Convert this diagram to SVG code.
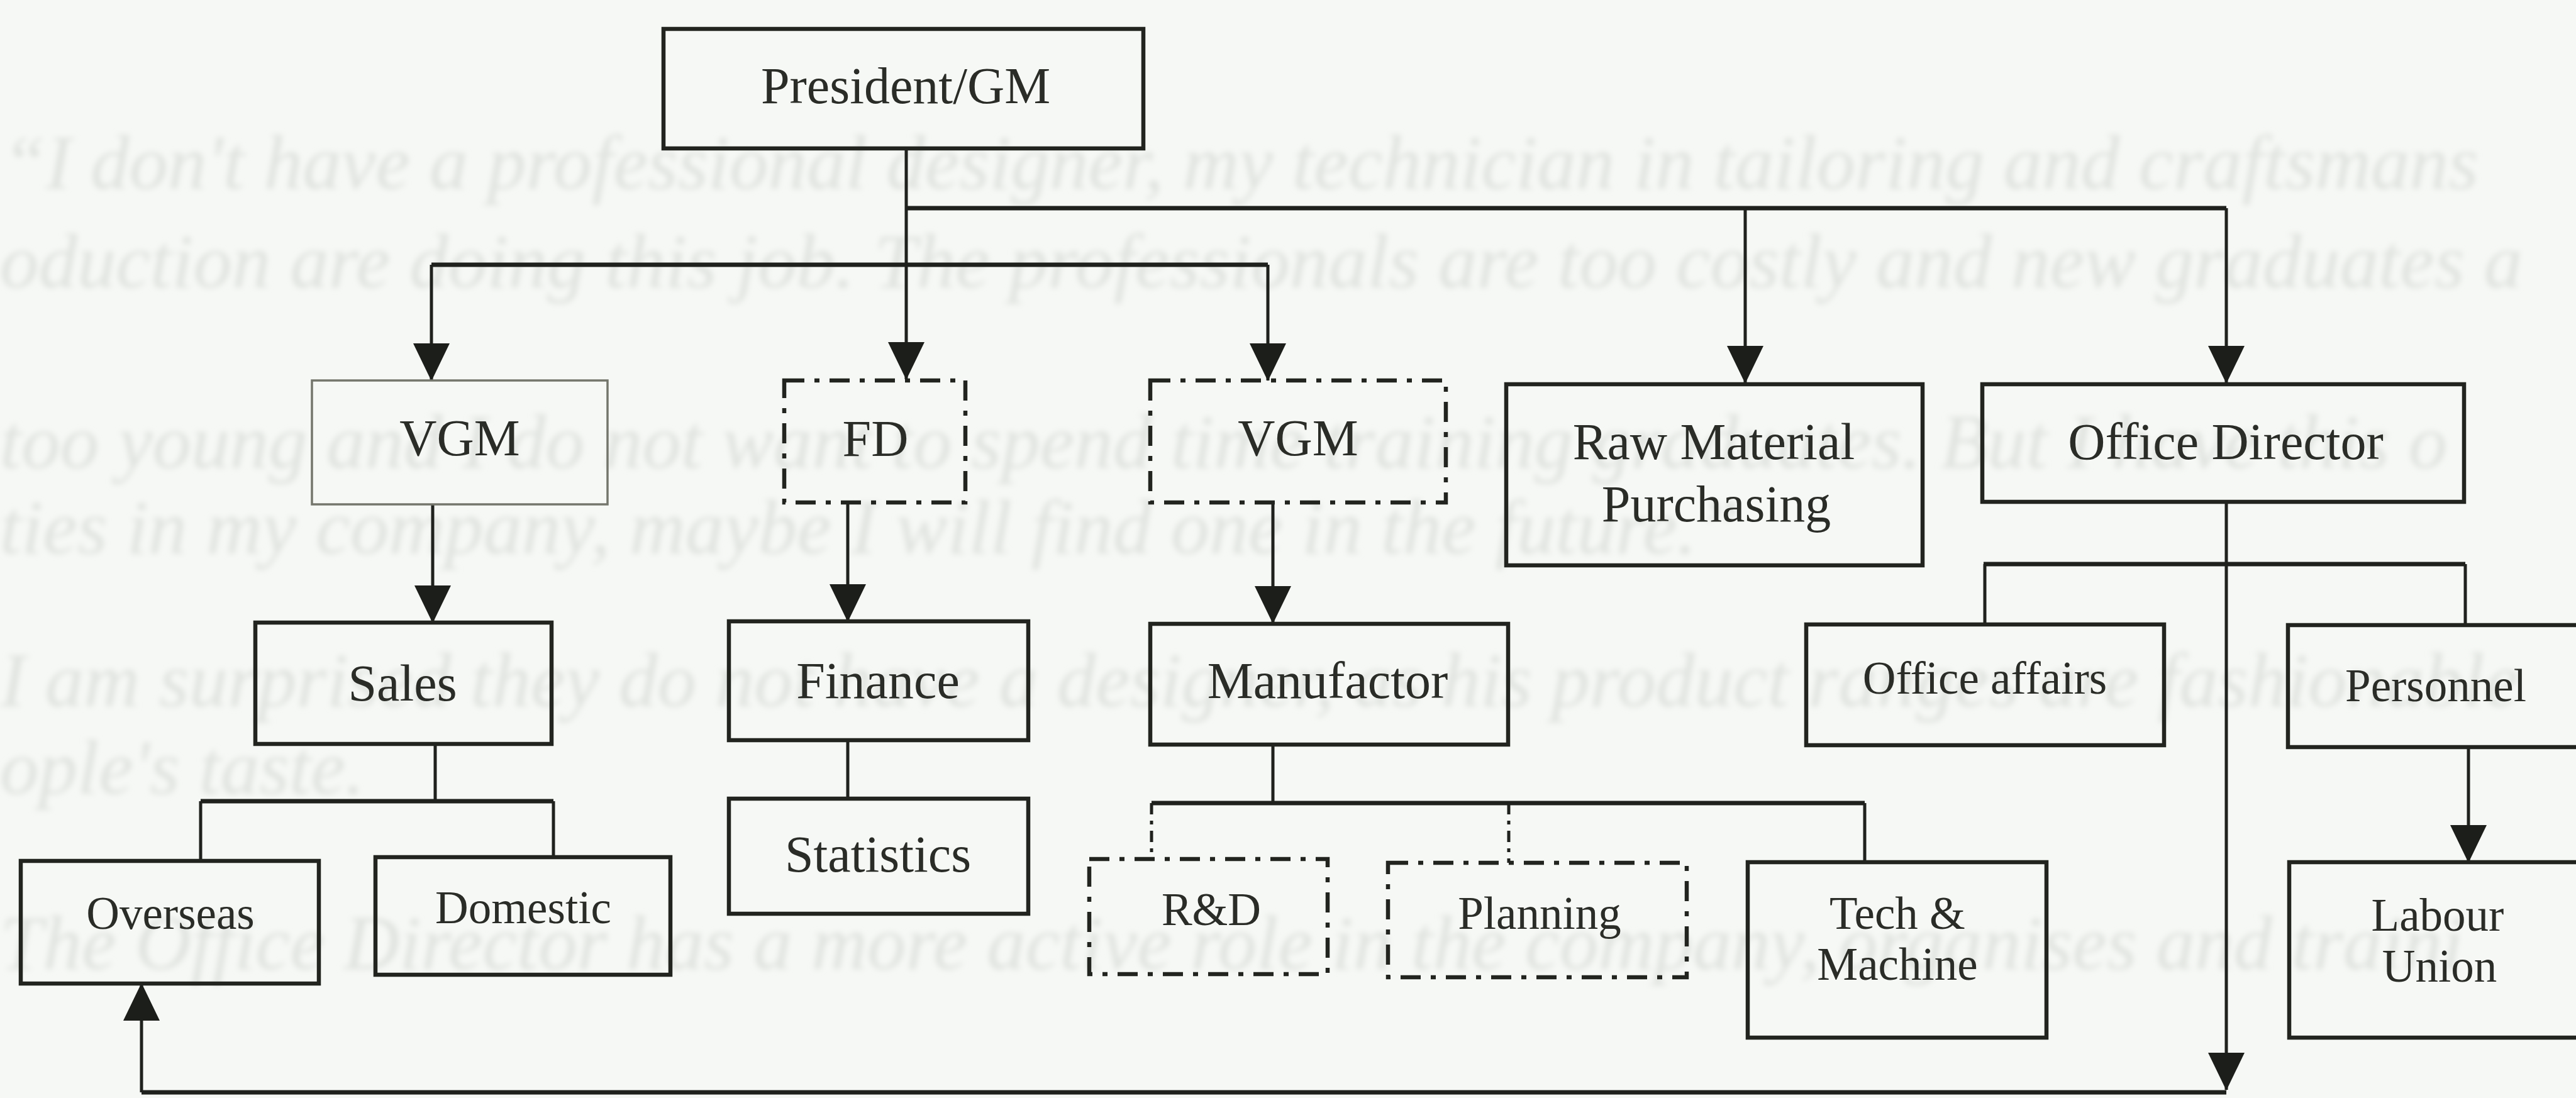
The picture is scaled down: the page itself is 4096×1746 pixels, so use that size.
<svg xmlns="http://www.w3.org/2000/svg" width="4096" height="1746" viewBox="0 0 4096 1746">
  <defs>
    <marker id="arrow" markerUnits="userSpaceOnUse" viewBox="0 -29 60 58" refX="59" refY="0" markerWidth="60" markerHeight="58" orient="auto">
      <path d="M0,-29 L60,0 L0,29 Z" fill="#1c1e1a"/>
    </marker>
    <filter id="soft" x="-2%" y="-60%" width="104%" height="220%">
      <feGaussianBlur stdDeviation="5"/>
    </filter>
  </defs>
  <style>
    .box{fill:none;stroke:#22241f;stroke-width:6.5}
    .thin{stroke:#74766c;stroke-width:3.5}
    .dash{stroke-dasharray:32 16 8 16}
    .lbl{font-family:"Liberation Serif","Times New Roman",serif;font-size:82px;fill:#2a2c27;text-anchor:middle}
    .sm{font-size:73px}
    .wire{fill:none;stroke:#1f211d;stroke-width:5}
    .bar{stroke-width:7}
    .dotted{stroke-dasharray:18 10 6 10}
    .ghost{font-family:"Liberation Serif","Times New Roman",serif;font-style:italic;font-size:123px;fill:#e0e3df}
  </style>

  <!-- page background -->
  <rect width="4096" height="1746" fill="#f6f8f5"/>

  <!-- faint print from the reverse side of the page -->
  <g id="reverse-print" filter="url(#soft)">
    <text class="ghost" x="4" y="300">“I don't have a professional designer, my technician in tailoring and craftsmans</text>
    <text class="ghost" x="0" y="457">oduction are doing this job. The professionals are too costly and new graduates a</text>
    <text class="ghost" x="0" y="744">too young and I do not want to spend time training graduates. But I have this o</text>
    <text class="ghost" x="0" y="880">ties in my company, maybe I will find one in the future.”</text>
    <text class="ghost" x="0" y="1123">I am surprised they do not have a designer, as his product ranges are fashionable</text>
    <text class="ghost" x="0" y="1262">ople's taste.</text>
    <text class="ghost" x="0" y="1541">The Office Director has a more active role in the company, organises and traini</text>
  </g>

  <!-- connectors -->
  <g id="connectors">
    <!-- President to second level -->
    <path class="wire" d="M1441,236 V603" marker-end="url(#arrow)"/>
    <path class="wire bar" d="M1441,331 H3540"/>
    <path class="wire" d="M2775,331 V609" marker-end="url(#arrow)"/>
    <path class="wire" d="M3540,331 V609" marker-end="url(#arrow)"/>
    <path class="wire bar" d="M686,421 H2016"/>
    <path class="wire" d="M686,421 V605" marker-end="url(#arrow)"/>
    <path class="wire" d="M2016,421 V605" marker-end="url(#arrow)"/>

    <!-- second to third level -->
    <path class="wire" d="M688,802 V990" marker-end="url(#arrow)"/>
    <path class="wire" d="M1348,799 V988" marker-end="url(#arrow)"/>
    <path class="wire" d="M2024,799 V991" marker-end="url(#arrow)"/>

    <!-- Sales branches -->
    <path class="wire" d="M692,1184 V1274"/>
    <path class="wire bar" d="M319,1274 H880"/>
    <path class="wire" d="M319,1274 V1369"/>
    <path class="wire" d="M880,1274 V1363"/>

    <!-- Finance to Statistics -->
    <path class="wire" d="M1348,1177 V1270"/>

    <!-- Manufactor branches -->
    <path class="wire" d="M2024,1184 V1277"/>
    <path class="wire bar" d="M1831,1277 H2965"/>
    <path class="wire dotted" d="M1831,1277 V1366"/>
    <path class="wire dotted" d="M2399,1277 V1372"/>
    <path class="wire" d="M2965,1277 V1371"/>

    <!-- Office Director branches -->
    <path class="wire bar" d="M3154,897 H3920"/>
    <path class="wire" d="M3156,897 V993"/>
    <path class="wire" d="M3920,897 V994"/>
    <path class="wire" d="M3925,1188 V1371" marker-end="url(#arrow)"/>

    <!-- Office Director down and back to Overseas -->
    <path class="wire" d="M3540,798 V1733" marker-end="url(#arrow)"/>
    <path class="wire bar" d="M225,1737 H3540"/>
    <path class="wire" d="M225,1737 V1564" marker-end="url(#arrow)"/>
  </g>

  <!-- nodes -->
  <g id="president">
    <rect class="box" x="1055" y="46" width="763" height="190"/>
    <text class="lbl" x="1440" y="164">President/GM</text>
  </g>

  <g id="vgm-sales">
    <rect class="box thin" x="496" y="605" width="470" height="197"/>
    <text class="lbl" x="731" y="724">VGM</text>
  </g>
  <g id="fd">
    <rect class="box dash" x="1247" y="605" width="288" height="194"/>
    <text class="lbl" x="1392" y="725">FD</text>
  </g>
  <g id="vgm-manufactor">
    <rect class="box dash" x="1829" y="605" width="470" height="194"/>
    <text class="lbl" x="2064" y="724">VGM</text>
  </g>
  <g id="raw-material">
    <rect class="box" x="2395" y="611" width="662" height="288"/>
    <text class="lbl" x="2725" y="730">Raw Material</text>
    <text class="lbl" x="2729" y="829">Purchasing</text>
  </g>
  <g id="office-director">
    <rect class="box" x="3152" y="611" width="766" height="187"/>
    <text class="lbl" x="3539" y="730">Office Director</text>
  </g>

  <g id="sales">
    <rect class="box" x="406" y="990" width="471" height="193"/>
    <text class="lbl" x="640" y="1114">Sales</text>
  </g>
  <g id="finance">
    <rect class="box" x="1159" y="988" width="476" height="189"/>
    <text class="lbl" x="1396" y="1110">Finance</text>
  </g>
  <g id="manufactor">
    <rect class="box" x="1829" y="992" width="569" height="192"/>
    <text class="lbl" x="2111" y="1110">Manufactor</text>
  </g>
  <g id="office-affairs">
    <rect class="box" x="2872" y="993" width="569" height="192"/>
    <text class="lbl sm" x="3156" y="1103">Office affairs</text>
  </g>
  <g id="personnel">
    <rect class="box" x="3638" y="994" width="480" height="194"/>
    <text class="lbl sm" x="3873" y="1115">Personnel</text>
  </g>

  <g id="overseas">
    <rect class="box" x="33" y="1369" width="474" height="195"/>
    <text class="lbl sm" x="271" y="1477">Overseas</text>
  </g>
  <g id="domestic">
    <rect class="box" x="597" y="1363" width="469" height="187"/>
    <text class="lbl sm" x="832" y="1468">Domestic</text>
  </g>
  <g id="statistics">
    <rect class="box" x="1159" y="1270" width="476" height="183"/>
    <text class="lbl" x="1396" y="1386">Statistics</text>
  </g>
  <g id="r-and-d">
    <rect class="box dash" x="1732" y="1366" width="379" height="183"/>
    <text class="lbl sm" x="1926" y="1471">R&amp;D</text>
  </g>
  <g id="planning">
    <rect class="box dash" x="2207" y="1372" width="475" height="182"/>
    <text class="lbl sm" x="2448" y="1477">Planning</text>
  </g>
  <g id="tech-machine">
    <rect class="box" x="2779" y="1371" width="475" height="279"/>
    <text class="lbl sm" x="3017" y="1477">Tech &amp;</text>
    <text class="lbl sm" x="3017" y="1558">Machine</text>
  </g>
  <g id="labour-union">
    <rect class="box" x="3640" y="1371" width="480" height="279"/>
    <text class="lbl sm" x="3876" y="1480">Labour</text>
    <text class="lbl sm" x="3879" y="1561">Union</text>
  </g>
</svg>
